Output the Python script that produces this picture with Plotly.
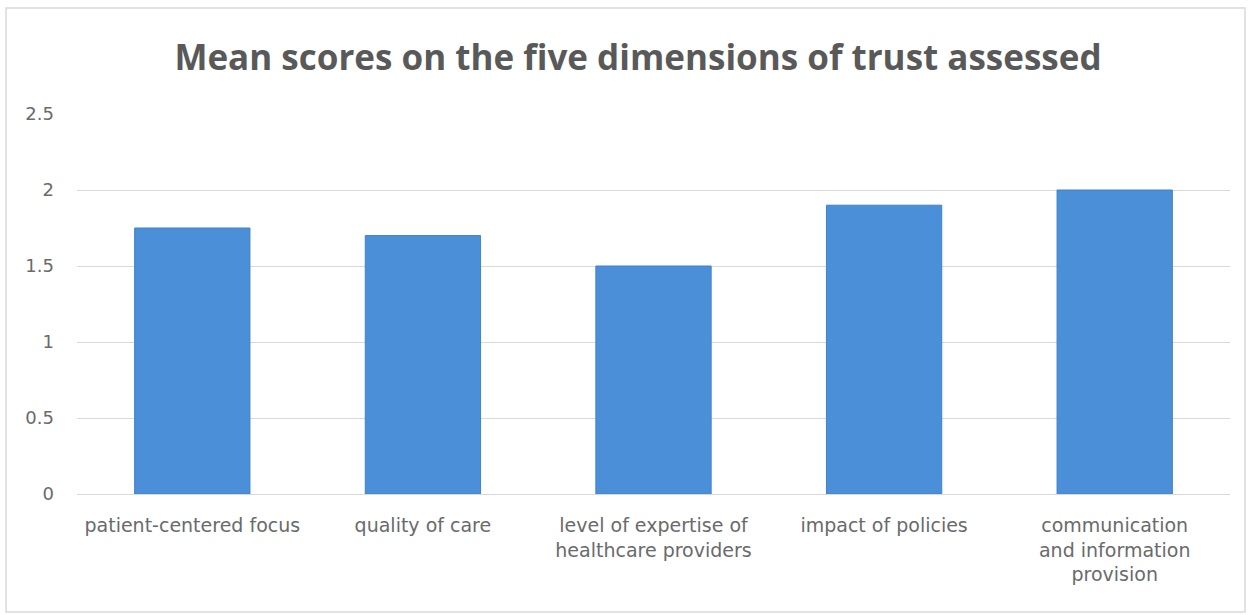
import plotly.graph_objects as go

categories = [
    "patient-centered focus",
    "quality of care",
    "level of expertise of<br>healthcare providers",
    "impact of policies",
    "communication<br>and information<br>provision",
]
mean_scores = [1.75, 1.7, 1.5, 1.9, 2.0]
y_ticks = [0, 0.5, 1, 1.5, 2, 2.5]
y_tick_labels = ["0", "0.5", "1", "1.5", "2", "2.5"]

L, R, T, B = 77, 21, 114, 121
W, H = 1251, 615
pw, ph = W - L - R, H - T - B

def px_x(x):
    return (x - L) / pw

def px_y(y):
    return (H - B - y) / ph

fig = go.Figure(
    go.Bar(
        x=categories,
        y=mean_scores,
        width=0.5,
        marker=dict(color="#4a8fd8", line=dict(color="#3f82cc", width=1)),
    )
)

fig.update_layout(
    width=W,
    height=H,
    margin=dict(l=L, r=R, t=T, b=B),
    paper_bgcolor="white",
    plot_bgcolor="white",
    showlegend=False,
    title=dict(
        text="<b>Mean scores on the five dimensions of trust assessed</b>",
        x=638 / W,
        xanchor="center",
        y=1 - 58 / H,
        yanchor="middle",
        font=dict(family="Open Sans, Lato, sans-serif", size=35, color="#595959"),
    ),
    font=dict(family="DejaVu Sans, sans-serif", color="#595959"),
    bargap=0.5,
)

fig.update_yaxes(
    range=[0, 2.5],
    tickvals=y_ticks,
    ticktext=y_tick_labels,
    showgrid=True,
    gridcolor="#d9d9d9",
    gridwidth=1,
    zeroline=False,
    showline=False,
    ticks="",
    ticklabelstandoff=22,
    tickfont=dict(family="DejaVu Sans, sans-serif", size=18, color="#6a6a6a"),
)
fig.update_xaxes(
    showline=True,
    linecolor="#d9d9d9",
    linewidth=1,
    ticks="",
    tickangle=0,
    ticklabelstandoff=14,
    tickfont=dict(family="DejaVu Sans, sans-serif", size=19, color="#6a6a6a"),
)

fig.add_shape(
    type="rect",
    xref="paper",
    yref="paper",
    x0=px_x(6),
    x1=px_x(1245),
    y0=px_y(8),
    y1=px_y(612),
    line=dict(color="#d9d9d9", width=1.5),
    fillcolor="rgba(0,0,0,0)",
    layer="below",
)

fig.write_html("out.html")
